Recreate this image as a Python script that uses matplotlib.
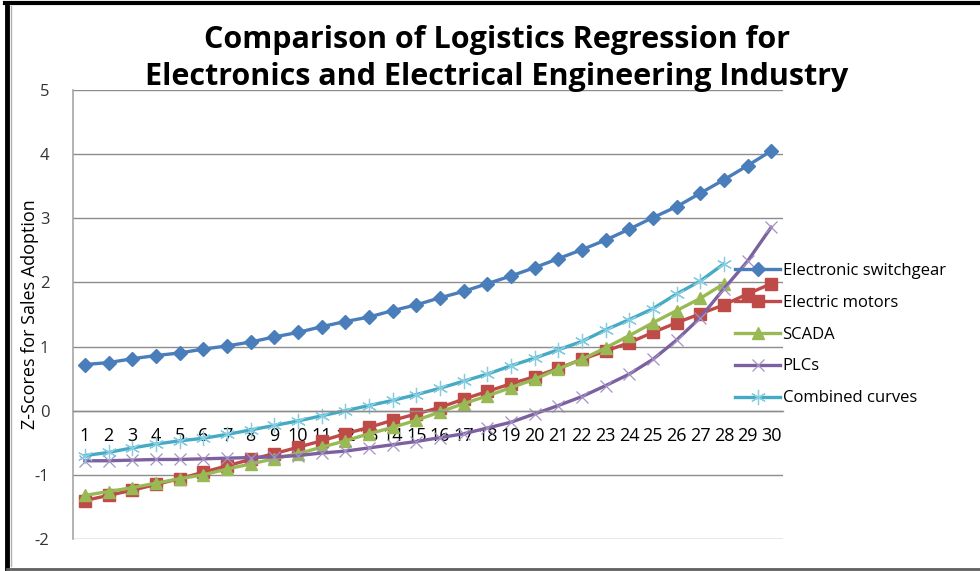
import matplotlib
matplotlib.use("Agg")
from matplotlib import pyplot as plt
from matplotlib.lines import Line2D

plt.rcParams['font.family'] = ['Open Sans', 'DejaVu Sans']

categories = list(range(1, 31))

switchgear = [0.72, 0.75, 0.81, 0.86, 0.90, 0.96, 1.01, 1.07, 1.15, 1.22,
              1.31, 1.39, 1.46, 1.56, 1.65, 1.76, 1.86, 1.98, 2.10, 2.23,
              2.37, 2.51, 2.66, 2.83, 3.01, 3.18, 3.39, 3.60, 3.82, 4.05]
motors = [-1.40, -1.32, -1.24, -1.15, -1.06, -0.96, -0.86, -0.76, -0.67, -0.57,
          -0.47, -0.36, -0.26, -0.15, -0.05, 0.05, 0.18, 0.30, 0.42, 0.53,
          0.66, 0.80, 0.93, 1.06, 1.22, 1.37, 1.51, 1.65, 1.82, 1.98]
scada = [-1.32, -1.26, -1.20, -1.13, -1.06, -1.00, -0.91, -0.83, -0.75, -0.67,
         -0.57, -0.47, -0.36, -0.26, -0.15, -0.02, 0.11, 0.23, 0.36, 0.49,
         0.65, 0.80, 0.98, 1.17, 1.37, 1.56, 1.75, 1.98]
plcs = [-0.78, -0.78, -0.77, -0.76, -0.76, -0.75, -0.74, -0.73, -0.72, -0.70,
        -0.66, -0.63, -0.58, -0.53, -0.48, -0.42, -0.36, -0.27, -0.18, -0.05,
        0.08, 0.22, 0.39, 0.57, 0.80, 1.10, 1.45, 1.90, 2.33, 2.86]
combined = [-0.70, -0.65, -0.58, -0.52, -0.47, -0.43, -0.37, -0.30, -0.23, -0.16,
            -0.08, 0.00, 0.08, 0.16, 0.25, 0.35, 0.46, 0.57, 0.70, 0.82,
            0.95, 1.08, 1.26, 1.42, 1.59, 1.82, 2.02, 2.29]

series_names = ["Electronic switchgear", "Electric motors", "SCADA", "PLCs", "Combined curves"]
yticks = [-2, -1, 0, 1, 2, 3, 4, 5]

fig = plt.figure(figsize=(9.8, 5.71), dpi=100)
ax = fig.add_axes([73 / 980, 1 - 539 / 571, (783 - 73) / 980, (539 - 90) / 571])

lw = 2.4
ax.plot(categories, switchgear, color='#4A7EBB', lw=lw, marker='D', ms=7,
        mfc='#4A7EBB', mec='#4A7EBB', label=series_names[0])
ax.plot(categories, motors, color='#BE4B48', lw=lw, marker='s', ms=9,
        mfc='#BE4B48', mec='#BE4B48', label=series_names[1])
ax.plot(categories[:len(scada)], scada, color='#98B954', lw=lw, marker='^', ms=9,
        mfc='#98B954', mec='#98B954', label=series_names[2])
ax.plot(categories, plcs, color='#7D60A0', lw=lw, marker='x', ms=9,
        mec='#A592C4', mew=0.9, label=series_names[3])
ax.plot(categories[:len(combined)], combined, color='#46AAC5', lw=lw, marker=(6, 2, 0), ms=11,
        mec='#86CDE0', mew=0.9, label=series_names[4])

ax.set_xlim(0.5, 30.5)
ax.set_ylim(-2, 5)
ax.set_yticks(yticks)
ax.set_yticklabels([str(v) for v in yticks])
ax.set_xticks(categories)
ax.set_xticklabels([str(c) for c in categories])
ax.yaxis.grid(True, color='#8C8C8C', lw=1.0)
ax.set_axisbelow(True)

for s in ['top', 'right']:
    ax.spines[s].set_visible(False)
ax.spines['left'].set_color('#A6A6A6')
ax.spines['left'].set_linewidth(1.2)
ax.spines['bottom'].set_position(('data', 0))
ax.spines['bottom'].set_color('#8C8C8C')
ax.spines['bottom'].set_linewidth(1.0)

ax.tick_params(axis='x', length=0, pad=12, labelsize=13, labelcolor='#000000')
ax.tick_params(axis='y', length=0, pad=17, labelsize=12, labelcolor='#333333')
ax.set_ylabel("Z-Scores for Sales Adoption", fontsize=13)
ax.yaxis.set_label_coords(-0.048, 0.5)

fig.text(0.507, 0.93, "Comparison of Logistics Regression for", ha='center', va='center',
         fontsize=22, fontweight='bold')
fig.text(0.507, 0.865, "Electronics and Electrical Engineering Industry", ha='center', va='center',
         fontsize=22, fontweight='bold')

leg = ax.legend(loc='upper left', bbox_to_anchor=(735 / 980, 1 - 263 / 571),
                bbox_transform=fig.transFigure, frameon=False, fontsize=12,
                handlelength=2.7, handletextpad=0.15, labelspacing=0.95,
                borderpad=0, borderaxespad=0)

# chart border
fig.add_artist(Line2D([5 / 980, 1], [1 - 2.5 / 571, 1 - 2.5 / 571], color='black', lw=3,
                      transform=fig.transFigure))
fig.add_artist(Line2D([7 / 980, 7 / 980], [1 - 2.5 / 571, 1 - 568 / 571], color='black', lw=3.5,
                      transform=fig.transFigure))
fig.add_artist(Line2D([11 / 980, 11 / 980], [1 - 6 / 571, 1 - 566 / 571], color='#B0B0B0', lw=1,
                      transform=fig.transFigure))
fig.add_artist(Line2D([7 / 980, 1], [1 - 568.5 / 571, 1 - 568.5 / 571], color='#606060', lw=2,
                      transform=fig.transFigure))

fig.savefig("out.png", dpi=100)
